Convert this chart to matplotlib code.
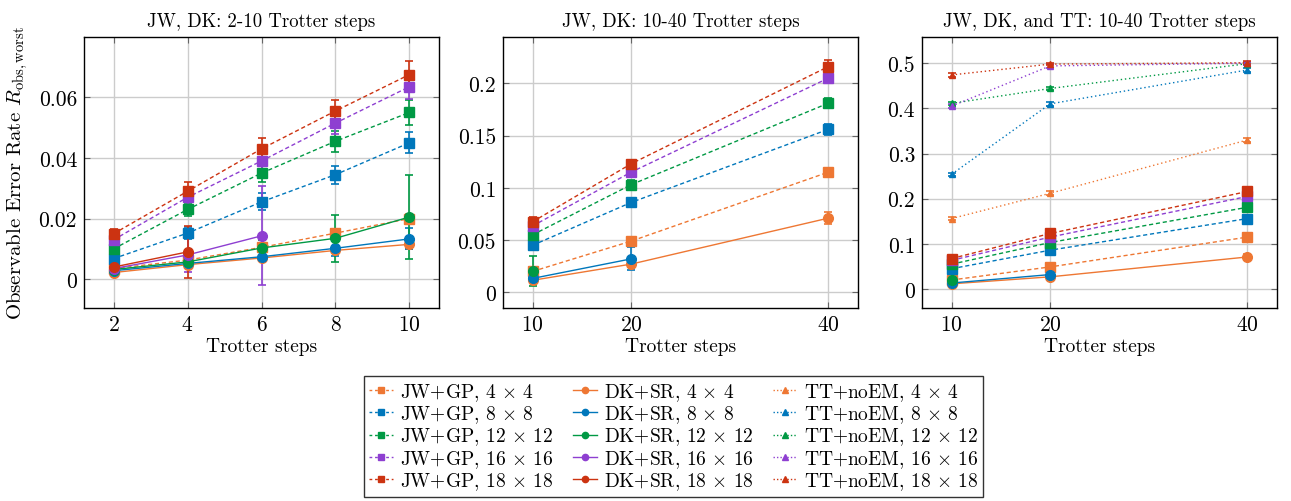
import numpy as np
import matplotlib
matplotlib.use('Agg')
import matplotlib.pyplot as plt
from matplotlib.lines import Line2D
from matplotlib.ticker import FuncFormatter

plt.rcParams['font.family'] = 'serif'
plt.rcParams['font.serif'] = ['cmr10']
plt.rcParams['mathtext.fontset'] = 'cm'
plt.rcParams['axes.formatter.use_mathtext'] = True
plt.rcParams['font.size'] = 13.5

# ---- data ----
sizes = ['4', '8', '12', '16', '18']
colors = ['#EE7733', '#0077BB', '#009944', '#8E3FD1', '#CC3311']

steps_all = [2, 4, 6, 8, 10, 20, 40]
steps_long = [10, 20, 40]

# JW+GP, one list per lattice size over steps_all
jw_gp = [
    [0.0035, 0.0063, 0.0105, 0.0152, 0.0200, 0.049, 0.115],
    [0.0068, 0.0152, 0.0255, 0.0345, 0.0450, 0.086, 0.156],
    [0.0100, 0.0230, 0.0350, 0.0455, 0.0550, 0.103, 0.181],
    [0.0130, 0.0270, 0.0390, 0.0515, 0.0635, 0.115, 0.205],
    [0.0150, 0.0290, 0.0430, 0.0555, 0.0675, 0.123, 0.216],
]
jw_gp_err = [
    [0.0010, 0.0010, 0.0010, 0.0012, 0.0015, 0.002, 0.004],
    [0.0010, 0.0020, 0.0028, 0.0030, 0.0035, 0.004, 0.005],
    [0.0010, 0.0022, 0.0030, 0.0035, 0.0040, 0.004, 0.005],
    [0.0012, 0.0025, 0.0035, 0.0035, 0.0040, 0.004, 0.005],
    [0.0015, 0.0030, 0.0035, 0.0035, 0.0045, 0.004, 0.006],
]

# DK+SR, series stop early for the bigger lattices
dk_sr = [
    [0.0022, 0.0048, 0.0070, 0.0095, 0.0115, 0.027, 0.071],
    [0.0028, 0.0052, 0.0074, 0.0102, 0.0133, 0.032],
    [0.0032, 0.0057, 0.0103, 0.0135, 0.0205],
    [0.0035, 0.0080, 0.0143],
    [0.0040, 0.0090],
]
dk_sr_err = [
    [0.0005, 0.0008, 0.0010, 0.0010, 0.0015, 0.003, 0.006],
    [0.0008, 0.0010, 0.0015, 0.0025, 0.0035, 0.011],
    [0.0010, 0.0012, 0.0025, 0.0077, 0.0140],
    [0.0012, 0.0055, 0.0163],
    [0.0015, 0.0085],
]

# TT+noEM over steps_long
tt_noem = [
    [0.156, 0.212, 0.330],
    [0.254, 0.410, 0.485],
    [0.411, 0.444, 0.499],
    [0.405, 0.494, 0.500],
    [0.474, 0.498, 0.501],
]
tt_noem_err = [
    [0.004, 0.004, 0.005],
    [0.004, 0.004, 0.005],
    [0.004, 0.004, 0.003],
    [0.005, 0.004, 0.003],
    [0.004, 0.003, 0.003],
]


def series(ax, x, y, e, c, ls, mk, ms):
    ax.errorbar(x, y, yerr=e, color=c, ls=ls, lw=1.0, marker=mk, ms=ms,
                mec=c, mfc=c, elinewidth=1.2, capsize=3, capthick=1.2)


def panel(ax, lo, hi, with_tt):
    for i in range(5):
        x = steps_all[lo:hi]
        series(ax, x, jw_gp[i][lo:hi], jw_gp_err[i][lo:hi], colors[i], (0, (3, 2)), 's', 7)
    for i in range(5):
        n = len(dk_sr[i])
        if n <= lo:
            continue
        x = steps_all[lo:min(hi, n)]
        series(ax, x, dk_sr[i][lo:min(hi, n)], dk_sr_err[i][lo:min(hi, n)],
               colors[i], '-', 'o', 7)
    if with_tt:
        for i in range(5):
            series(ax, steps_long, tt_noem[i], tt_noem_err[i], colors[i], (0, (1, 2)), '^', 5)
    ax.grid(True, color='#cccccc', lw=1.0)
    ax.set_axisbelow(True)
    ax.tick_params(direction='in', top=True, right=True, length=4, color='#666666',
                   labelsize=15.5, pad=5)
    for s in ax.spines.values():
        s.set_linewidth(1.0)
    ax.yaxis.set_major_formatter(FuncFormatter(lambda v, p: '%g' % round(v, 6)))
    ax.set_xlabel('Trotter steps', fontsize=14, labelpad=2)


W, H = 1291, 502
fig = plt.figure(figsize=(W / 100, H / 100), dpi=100)


def px_axes(l, r, t, b):
    return fig.add_axes([l / W, 1 - b / H, (r - l) / W, (b - t) / H])


ax1 = px_axes(84, 439, 38, 309)
ax2 = px_axes(503, 858, 38, 309)
ax3 = px_axes(922, 1277, 38, 309)

panel(ax1, 0, 5, False)
ax1.set_xlim(1.2, 10.8)
ax1.set_ylim(-0.0095, 0.0799)
ax1.set_xticks([2, 4, 6, 8, 10])
ax1.set_yticks([0, 0.02, 0.04, 0.06])
ax1.set_title('JW, DK: 2-10 Trotter steps', fontsize=13.5, pad=8)
ax1.set_ylabel(r'Observable Error Rate $R_{\mathrm{obs,worst}}$', fontsize=15, labelpad=6)

panel(ax2, 4, 7, False)
ax2.set_xlim(7, 43)
ax2.set_ylim(-0.015, 0.2443)
ax2.set_xticks(steps_long)
ax2.set_yticks([0, 0.05, 0.1, 0.15, 0.2])
ax2.set_title('JW, DK: 10-40 Trotter steps', fontsize=13.5, pad=8)

panel(ax3, 4, 7, True)
ax3.set_xlim(7, 43)
ax3.set_ylim(-0.042, 0.558)
ax3.set_xticks(steps_long)
ax3.set_yticks([0, 0.1, 0.2, 0.3, 0.4, 0.5])
ax3.set_title('JW, DK, and TT: 10-40 Trotter steps', fontsize=13.5, pad=8)

# legend (column-major: JW+GP, DK+SR, TT+noEM)
handles, labels = [], []
for name, ls, mk in [('JW+GP', (0, (2, 2)), 's'), ('DK+SR', '-', 'o'), ('TT+noEM', (0, (1, 1.5)), '^')]:
    for i in range(5):
        handles.append(Line2D([], [], color=colors[i], ls=ls, lw=1.0, marker=mk, ms=4.5))
        labels.append(r'%s, $%s\,\times\,%s$' % (name, sizes[i], sizes[i]))
leg = fig.legend(handles, labels, ncol=3, loc='lower left',
                 bbox_to_anchor=(364 / W, 1 - 498 / H),
                 frameon=True, fancybox=False, edgecolor='black', fontsize=14,
                 handlelength=1.25, handletextpad=0.35, columnspacing=1.0,
                 labelspacing=0.03, borderpad=0.25, borderaxespad=0)
leg.get_frame().set_linewidth(1.0)

fig.savefig('out.png', dpi=100)
